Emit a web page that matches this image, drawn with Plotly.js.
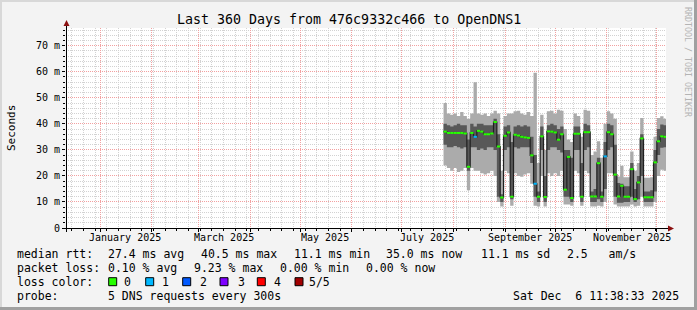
<!DOCTYPE html>
<html><head><meta charset="utf-8">
<script src="https://cdn.plot.ly/plotly-3.0.1.min.js"></script>
<style>html,body{margin:0;padding:0;background:#f3f3f3;overflow:hidden}#chart{width:697px;height:310px}</style>
</head><body><div id="chart"></div>
<script>
// ---- data (2-day consolidated bins) ----
const binStart = ['2025-07-26','2025-07-28','2025-07-30','2025-08-01','2025-08-03','2025-08-05','2025-08-07','2025-08-09','2025-08-11','2025-08-13',
'2025-08-15','2025-08-17','2025-08-19','2025-08-21','2025-08-23','2025-08-25','2025-08-27','2025-08-29','2025-08-31','2025-09-02',
'2025-09-04','2025-09-06','2025-09-08','2025-09-10','2025-09-12','2025-09-14','2025-09-16','2025-09-18','2025-09-20','2025-09-22',
'2025-09-24','2025-09-26','2025-09-28','2025-09-30','2025-10-02','2025-10-04','2025-10-06','2025-10-08','2025-10-10','2025-10-12',
'2025-10-14','2025-10-16','2025-10-18','2025-10-20','2025-10-22','2025-10-24','2025-10-26','2025-10-28','2025-10-30','2025-11-01',
'2025-11-03','2025-11-05','2025-11-07','2025-11-09','2025-11-11','2025-11-13','2025-11-15','2025-11-17','2025-11-19','2025-11-21',
'2025-11-23','2025-11-25','2025-11-27','2025-11-29','2025-12-01','2025-12-03','2025-12-05'];
const pingMin = [24,23,22,23,21.5,22,23,14.5,23,22, 22,21,20.5,21,22,20,10,8.3,22,21, 8.5,21,20,19.7,20.5,21,17,8.5,8.3,20,
 8.3,21,20,21,20,22,9,9,8.5,22, 21,8.5,22,21,8.3,8.3,8.5,8.3,10,21, 21,9,8.3,8.3,8.3,8.3,9,8.3,8.5,12, 8.3,8.3,8.3,10,20,22.4,22];
const pingLow = [32,31,31,31.5,31,30.5,31,22,31,31, 30,30.5,30,31,31,30,12,10,30,31, 11,31,30.5,31,31,31,25,12,10,30,
 10,30,31,31,30,29,12,12,10,30, 30,10,30,31,10,10,11,10,15,30, 31,12,9.7,9.7,10,10,12,10,11,20, 10,10,10,14,28,30.8,31];
const pingMedian = [37,36.5,36.5,36.5,36.5,36.5,36.3,23.5,36.5,35, 37.3,37,36,36,36.3,40.7,31.3,11.7,35.4,36.7, 12,35.8,35.5,35,34.8,34.6,27.9,17,12,35.2,
 11.9,37.1,37,36.7,33.9,36,14.7,27.3,11.5,36.2, 36.2,12,36.8,36.8,12.1,12.1,24.9,12,27.5,36.8, 36,20.5,12.1,16.2,12,12,22.6,11.1,17.5,34.4, 11.8,11.8,11.8,25.2,33.3,35.2,35.0];
const pingHigh = [40,39.5,39,39.5,40,39.5,39.5,34,40,39, 40,40,39.5,39.5,39.5,42,36,13,39,39.5, 33,39,39.5,39,39.5,39,35,28,14,39,
 20,39.5,40,39.5,38,39,30,30,27,39, 39,25,40,39.5,14,15,27,14,33,40, 39.5,32,17.3,17,16,16,25,15,20,36, 14,14,14.5,30,38,39.7,39.5];
const pingMax = [48,44,43.5,44,43,44.5,43,42,44,56, 44,43.5,44,43,44,45,44,22,43,44, 44,44.8,45,44,43.5,44.5,43,59.6,25,43.5,
 30,44.8,45,44,45.4,45,38,34,33,44, 43,35,45.4,45,28,29.4,33.3,27,40,44.8, 44,42,19.8,23.9,19.5,19.5,29.4,22,25,42.2, 19.3,19.3,19.5,35,42.2,42.9,42];
const lossLevel = [0,0,0,0,0,0,0,0,0,1, 0,0,0,0,0,0,0,0,0,0, 0,0,0,0,0,0,0,1,0,0,
 0,0,0,0,0,0,0,0,0,0, 0,0,0,0,0,0,0,0,1,0, 0,0,0,0,0,0,0,0,0,0, 0,0,0,0,0,0,0];
const startTime = '2024-12-11 11:38:33';
const endTime = '2025-12-06 11:38:33';
const monthLabelAt = ['2025-01-16','2025-03-16','2025-05-16','2025-07-16','2025-09-16','2025-11-16'];
const monthLabels = ['January 2025','March 2025','May 2025','July 2025','September 2025','November 2025'];
const yTickVals = [0,10,20,30,40,50,60,70];
const yTickText = ['0','10 m','20 m','30 m','40 m','50 m','60 m','70 m'];
const lossNames = ['0','1','2','3','4','5/5'];
const lossColors = ['#26ff00','#00b8ff','#0059ff','#7e00ff','#ff0000','#a10000'];
const statRtt = ['median rtt:','27.4 ms avg','40.5 ms max','11.1 ms min','35.0 ms now','11.1 ms sd','2.5   am/s'];
const statLoss = ['packet loss:','0.10 % avg','9.23 % max','0.00 % min','0.00 % now'];
const probeText = ['probe:','5 DNS requests every 300s'];
const stamp = 'Sat Dec  6 11:38:33 2025';
const titleText = 'Last 360 Days from 476c9332c466 to OpenDNS1';

// ---- layout helpers (pixel -> paper) ----
const L=66, R=666, T=28, B=228;
const px = x => (x-L)/(R-L);
const py = y => (B-y)/(B-T);
const MONO = 'DejaVu Sans Mono';
const nb = s => s.replace(/ /g,'\u00a0');
function txt(x,y,s,o){o=o||{};return {xref:'paper',yref:'paper',x:px(x),y:py(y),text:nb(s),showarrow:false,
  xanchor:o.xa||'left',yanchor:'middle',textangle:o.rot||0,borderpad:0,
  font:{family:MONO,size:o.size||11.5,color:o.color||'#000'}};}

// ---- traces ----
const xs = binStart.concat([endTime]);
const ext = a => a.concat([a[a.length-1]]);
const base = {type:'scatter',mode:'lines',x:xs,hoverinfo:'skip',showlegend:false};
const traces = [
  Object.assign({},base,{y:ext(pingMin),line:{width:0,shape:'hv'}}),
  Object.assign({},base,{y:ext(pingMax),line:{width:0,shape:'hv'},fill:'tonexty',fillcolor:'#ababab'}),
  Object.assign({},base,{y:ext(pingLow),line:{width:0,shape:'hv'}}),
  Object.assign({},base,{y:ext(pingHigh),line:{width:0,shape:'hv'},fill:'tonexty',fillcolor:'#585858'}),
  Object.assign({},base,{y:ext(pingMedian),line:{width:1.2,color:'#202020',shape:'hv'}})
];
lossColors.forEach((c,lvl)=>{
  const sx=[],sy=[];
  lossLevel.forEach((l,i)=>{ if(l===lvl){ sx.push(xs[i],xs[i+1],null); sy.push(pingMedian[i],pingMedian[i],null);} });
  if(sx.length) traces.push({type:'scatter',mode:'lines',x:sx,y:sy,line:{width:2,color:c},hoverinfo:'skip',showlegend:false,connectgaps:false});
});

// ---- annotations ----
const ann = [];
ann.push(txt(348.5,19,titleText,{xa:'center',size:13.3}));
ann.push(txt(11,128,'Seconds',{xa:'center',rot:-90,size:11}));
ann.push(txt(688,62,'RRDTOOL / TOBI OETIKER',{xa:'center',rot:90,size:8.3,color:'#b4b4b4'}));
monthLabelAt.forEach((d,i)=>ann.push({xref:'x',yref:'paper',x:d,y:py(237.5),text:monthLabels[i],showarrow:false,
  xanchor:'center',yanchor:'middle',borderpad:0,font:{family:MONO,size:10,color:'#000'}}));
const rttX=[16,107.3,200,293.3,385,480,566];
statRtt.forEach((s,i)=>ann.push(txt(rttX[i],254,s)));
const lossX=[16,107.3,193.3,279.3,365];
statLoss.forEach((s,i)=>ann.push(txt(lossX[i],268,s)));
ann.push(txt(16,282,'loss color:'));
const boxX=[108.7,145.7,182.7,220,257.3,295], labX=[123,161,199,236.7,273,308];
lossNames.forEach((n,i)=>ann.push(txt(labX[i],282,n)));
ann.push(txt(16,296,probeText[0]));
ann.push(txt(107.3,296,probeText[1]));
ann.push(txt(680,296,stamp,{xa:'right'}));

// ---- shapes ----
const shapes = [];
const P = (x,y)=>px(x).toFixed(5)+','+py(y).toFixed(5);
lossColors.forEach((c,i)=>shapes.push({type:'rect',xref:'paper',yref:'paper',x0:px(boxX[i]),x1:px(boxX[i]+8),y0:py(277.7),y1:py(285.7),
  fillcolor:c,line:{color:'#000',width:1},layer:'above'}));
// axes
shapes.push({type:'line',xref:'paper',yref:'paper',x0:px(66.5),x1:px(66.5),y0:py(232),y1:py(24),line:{color:'#000',width:1},layer:'above'});
shapes.push({type:'line',xref:'paper',yref:'paper',x0:px(62),x1:px(670),y0:py(228.5),y1:py(228.5),line:{color:'#000',width:1},layer:'above'});
shapes.push({type:'path',xref:'paper',yref:'paper',path:'M'+P(63.5,26)+'L'+P(69.5,26)+'L'+P(66.5,20)+'Z',fillcolor:'#8b1010',line:{width:0},layer:'above'});
shapes.push({type:'path',xref:'paper',yref:'paper',path:'M'+P(668,225.5)+'L'+P(668,231.5)+'L'+P(674,228.5)+'Z',fillcolor:'#8b1010',line:{width:0},layer:'above'});
// frame
shapes.push({type:'rect',xref:'paper',yref:'paper',x0:px(0),x1:px(697),y0:py(0),y1:py(2),fillcolor:'#d8d8d8',line:{width:0}});
shapes.push({type:'rect',xref:'paper',yref:'paper',x0:px(0),x1:px(2),y0:py(0),y1:py(310),fillcolor:'#d8d8d8',line:{width:0}});
shapes.push({type:'rect',xref:'paper',yref:'paper',x0:px(694),x1:px(697),y0:py(0),y1:py(310),fillcolor:'#a0a0a0',line:{width:0}});
shapes.push({type:'rect',xref:'paper',yref:'paper',x0:px(0),x1:px(697),y0:py(307),y1:py(310),fillcolor:'#a0a0a0',line:{width:0}});

const gridRed = '#f2a0a0', gridGray = '#d2d2d2', dotted = '1px,1px';
const layout = {
  width:697,height:310,autosize:false,
  margin:{l:L,r:697-R,t:T,b:310-B,pad:0},
  paper_bgcolor:'#f3f3f3',plot_bgcolor:'#ffffff',
  showlegend:false,
  xaxis:{type:'date',range:[startTime,endTime],fixedrange:true,
    tickmode:'linear',tick0:'2025-01-01',dtick:'M1',showticklabels:false,
    ticks:'outside',ticklen:3,tickcolor:'#000',tickwidth:1,
    showgrid:true,gridcolor:gridRed,griddash:dotted,gridwidth:1,zeroline:false,showline:false,
    minor:{tick0:'2024-12-15',dtick:7*24*3600*1000,showgrid:true,gridcolor:gridGray,griddash:dotted,ticks:'outside',ticklen:2,tickcolor:'#000'}},
  yaxis:{range:[0,76.8],fixedrange:true,tickmode:'array',tickvals:yTickVals,ticktext:yTickText,
    ticks:'outside',ticklen:3,tickcolor:'#000',tickwidth:1,
    tickfont:{family:MONO,size:10,color:'#000'},
    showgrid:true,gridcolor:gridRed,griddash:dotted,gridwidth:1,zeroline:false,showline:false,
    minor:{tick0:0,dtick:2,showgrid:true,gridcolor:gridGray,griddash:dotted,ticks:'outside',ticklen:2,tickcolor:'#000'}},
  annotations:ann,shapes:shapes
};
Plotly.newPlot('chart',traces,layout,{staticPlot:true,displayModeBar:false});
</script></body></html>
